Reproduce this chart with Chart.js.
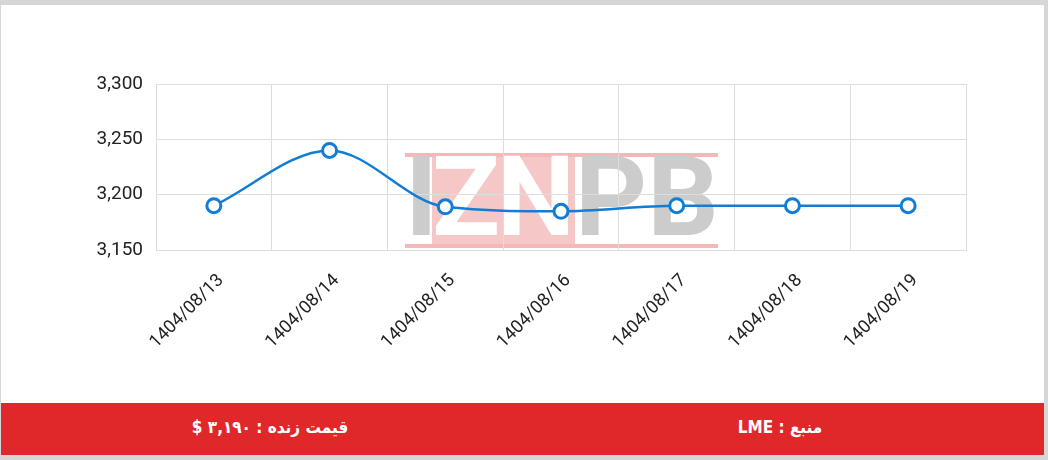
<!DOCTYPE html>
<html><head><meta charset="utf-8">
<script src="https://cdn.jsdelivr.net/npm/chart.js@4/dist/chart.umd.min.js"></script>
<style>
html,body{margin:0;padding:0;width:1048px;height:460px;overflow:hidden;background:#d6d6d6;}
#card{position:absolute;left:1px;top:5px;width:1043px;height:450px;background:#fff;}
#wrap{position:absolute;left:-1px;top:-5px;width:1048px;height:403px;}
#wm{position:absolute;left:405px;top:153px;width:313px;height:95px;}
#wm .line{position:absolute;left:0;width:313px;height:4px;background:#f3b9b9;}
#wm .l1{position:absolute;font:bold 112px Roboto,Arial,sans-serif;color:#cccccc;line-height:95px;top:-4px;}
#wm .pink{position:absolute;left:27px;top:4px;width:143px;height:87px;background:#f6c7c7;}
#wm .zn{position:absolute;left:27px;top:-4px;font:bold 112px Roboto,Arial,sans-serif;color:#fff;line-height:95px;letter-spacing:-4px;}
canvas{position:absolute;left:0;top:0;}
#footer{position:absolute;left:0;top:398px;width:1043px;height:52px;background:#e0282b;color:#fff;font:bold 17px "DejaVu Sans Condensed","DejaVu Sans",sans-serif;}
#footer div{position:absolute;top:14px;direction:rtl;white-space:nowrap;transform:translateX(-50%);}
</style></head>
<body>
<div id="card">
  <div id="wrap">
    <div id="wm">
      <div class="line" style="top:0"></div>
      <div class="line" style="top:91px"></div>
      <div class="pink"></div>
      <div class="l1" style="left:0">I</div>
      <div class="zn">ZN</div>
      <div class="l1" style="left:170px">PB</div>
    </div>
    <canvas id="c" width="1048" height="403"></canvas>
  </div>
  <div id="footer">
    <div style="left:269px">قیمت زنده : ۳,۱۹۰ $</div>
    <div style="left:779px">منبع : LME</div>
  </div>
</div>
<script>
const categories = ["1404/08/13","1404/08/14","1404/08/15","1404/08/16","1404/08/17","1404/08/18","1404/08/19"];
const prices = [3190, 3240, 3189, 3185, 3190, 3190, 3190];
const yTicks = [3150, 3200, 3250, 3300];

new Chart(document.getElementById('c'), {
  type: 'line',
  data: {
    labels: categories,
    datasets: [{
      data: prices,
      borderColor: '#117dd5',
      backgroundColor: '#ffffff',
      borderWidth: 2.5,
      tension: 0.4,
      cubicInterpolationMode: 'monotone',
      pointRadius: 7,
      pointBorderWidth: 3,
      pointBackgroundColor: '#ffffff',
      pointBorderColor: '#117dd5',
      fill: false
    }]
  },
  options: {
    responsive: false,
    animation: false,
    layout: { padding: { top: 84, right: 82, bottom: 0, left: 0 } },
    plugins: { legend: { display: false }, tooltip: { enabled: false } },
    scales: {
      x: {
        offset: true,
        afterFit: (s) => { s.height = 153; },
        grid: { color: '#dddddd', offset: true, drawTicks: false },
        border: { color: '#dddddd' },
        ticks: { color: '#222', font: { family: 'Roboto', size: 18 }, maxRotation: 45, minRotation: 45, padding: 20, labelOffset: 7 }
      },
      y: {
        min: 3150, max: 3300,
        afterFit: (s) => { s.width = 156; },
        afterBuildTicks: (s) => { s.ticks = yTicks.map(v => ({ value: v })); },
        grid: { color: '#dddddd', drawTicks: false },
        border: { color: '#dddddd' },
        ticks: { color: '#222', font: { family: 'Roboto', size: 19 }, padding: 13,
          callback: (v) => v.toLocaleString('en-US') }
      }
    }
  }
});
</script>
</body></html>
